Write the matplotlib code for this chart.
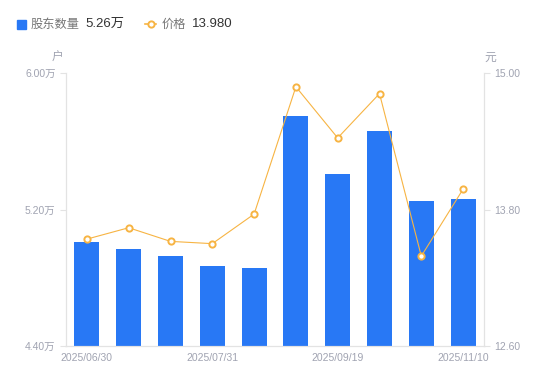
import numpy as np
import matplotlib.pyplot as plt
from matplotlib.patches import Rectangle
from matplotlib.lines import Line2D

plt.rcParams['font.family'] = ['Liberation Sans', 'Noto Sans CJK SC', 'DejaVu Sans']

dates = ['2025/06/30', '2025/07/10', '2025/07/20', '2025/07/31', '2025/08/20',
         '2025/08/31', '2025/09/19', '2025/09/30', '2025/10/20', '2025/11/10']
holders = [5.01, 4.97, 4.93, 4.87, 4.86, 5.75, 5.41, 5.66, 5.25, 5.26]  # 万户
price = [13.54, 13.64, 13.52, 13.50, 13.76, 14.88, 14.43, 14.82, 13.39, 13.98]

blue = '#2878f5'
orange = '#f7b443'
gray = '#a0a3b1'
axis_c = '#e3e3e3'
cjk = ['Noto Sans CJK SC', 'DejaVu Sans']

fig = plt.figure(figsize=(5.5, 3.81), dpi=100)
ax = fig.add_axes([0.12, 0.092, 0.76, 0.716])
x = np.arange(len(dates))
ax.bar(x, holders, width=0.6, color=blue, zorder=2)
ax.set_xlim(-0.5, len(dates) - 0.5)
ax.set_ylim(4.40, 6.00)
ax.set_yticks([4.40, 5.20, 6.00])
ax.set_yticklabels(['4.40万', '5.20万', '6.00万'])
ax.set_xticks(x[::3])
ax.set_xticklabels([dates[i] for i in x[::3]])

ax2 = ax.twinx()
ax2.plot(x, price, color=orange, lw=0.8, marker='o', ms=4.5,
         mfc='white', mec=orange, mew=1.4, zorder=3)
ax2.set_ylim(12.60, 15.00)
ax2.set_yticks([12.60, 13.80, 15.00])
ax2.set_yticklabels(['12.60', '13.80', '15.00'])

for a in (ax, ax2):
    for s in a.spines.values():
        s.set_color(axis_c)
    a.spines['top'].set_visible(False)
    a.tick_params(colors=axis_c, labelcolor=gray, labelsize=7.5, length=4, width=0.8)
ax.tick_params(axis='x', length=0, pad=5)
ax2.tick_params(axis='x', length=0)

fig.text(58 / 550, 1 - 57 / 381, '户', color=gray, fontsize=8.5, ha='center', va='center', family=cjk)
fig.text(490 / 550, 1 - 57 / 381, '元', color=gray, fontsize=8.5, ha='center', va='center', family=cjk)

# legend
fig.add_artist(Rectangle((17 / 550, 1 - 29 / 381), 9 / 550, 9 / 381,
                         transform=fig.transFigure, color=blue))
fig.text(31 / 550, 1 - 24 / 381, '股东数量', color='#777777', fontsize=8.8, va='center', family=cjk)
fig.text(85 / 550, 1 - 24 / 381, '5.26万', color='#333333', fontsize=9.5, va='center')
fig.add_artist(Line2D([145 / 550, 156 / 550], [1 - 24 / 381, 1 - 24 / 381],
                      transform=fig.transFigure, color=orange, lw=1.2))
fig.add_artist(Line2D([150.5 / 550], [1 - 24 / 381], transform=fig.transFigure,
                      marker='o', ms=4.5, mfc='white', mec=orange, mew=1.4, lw=0))
fig.text(162 / 550, 1 - 24 / 381, '价格', color='#777777', fontsize=8.8, va='center', family=cjk)
fig.text(192 / 550, 1 - 24 / 381, '13.980', color='#333333', fontsize=9.5, va='center')

fig.savefig('out.png', dpi=100)
